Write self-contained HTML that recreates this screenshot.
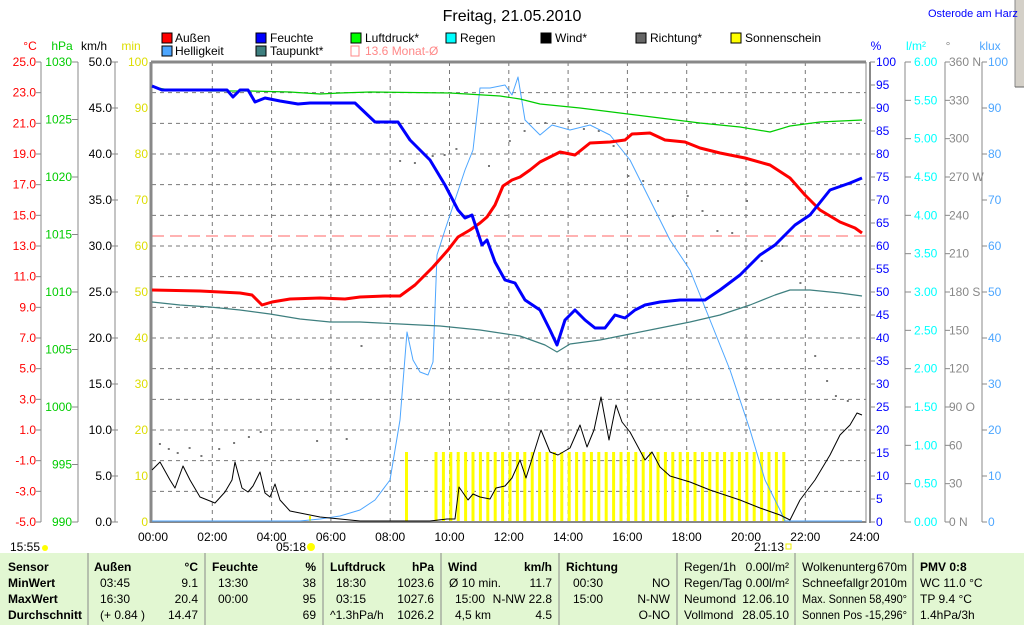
<!DOCTYPE html>
<html><head><meta charset="utf-8"><style>
body{margin:0;background:#fff;width:1024px;height:625px;overflow:hidden;font-family:"Liberation Sans",sans-serif}
svg{position:absolute;left:0;top:0}
</style></head><body>
<svg id="s" width="1024" height="625" xmlns="http://www.w3.org/2000/svg" font-family="Liberation Sans, sans-serif" font-size="12">
<rect x="1015" y="0" width="9" height="87" fill="#d4d0c8"/>
<line x1="1015" y1="0" x2="1015" y2="87" stroke="#888"/>
<line x1="1015" y1="87" x2="1024" y2="87" stroke="#666"/>
<text x="512" y="21" font-size="16" text-anchor="middle">Freitag, 21.05.2010</text>
<text x="928" y="17" font-size="11" fill="#0000ff">Osterode am Harz</text>
<g font-size="12">
<rect x="162" y="33" width="10" height="10" fill="#f00" stroke="#000"/><text x="175" y="42">Außen</text>
<rect x="162" y="46" width="10" height="10" fill="#4da6ff" stroke="#000"/><text x="175" y="55">Helligkeit</text>
<rect x="256" y="33" width="10" height="10" fill="#00f" stroke="#000"/><text x="270" y="42">Feuchte</text>
<rect x="256" y="46" width="10" height="10" fill="#3e7f7f" stroke="#000"/><text x="270" y="55">Taupunkt*</text>
<rect x="351" y="33" width="10" height="10" fill="#0f0" stroke="#000"/><text x="365" y="42">Luftdruck*</text>
<rect x="351" y="46" width="8" height="10" fill="none" stroke="#f88"/><text x="365" y="55" fill="#f88">13.6 Monat-Ø</text>
<rect x="446" y="33" width="10" height="10" fill="#0ff" stroke="#000"/><text x="460" y="42">Regen</text>
<rect x="541" y="33" width="10" height="10" fill="#000" stroke="#000"/><text x="555" y="42">Wind*</text>
<rect x="636" y="33" width="10" height="10" fill="#666" stroke="#000"/><text x="650" y="42">Richtung*</text>
<rect x="731" y="33" width="10" height="10" fill="#ff0" stroke="#000"/><text x="745" y="42">Sonnenschein</text>
</g>
<g id="g"></g>
</svg>
<script>
(function(){
var g=document.getElementById('g'),h='';
var X0=153,XH=29.65,T=62,B=522;
function x(t){return X0+t*XH}
function L(a,b,c,d,s,w,da){h+='<line x1="'+a+'" y1="'+b+'" x2="'+c+'" y2="'+d+'" stroke="'+s+'" stroke-width="'+(w||1)+'"'+(da?' stroke-dasharray="'+da+'"':'')+'/>'}
function Tx(xx,yy,t,c,a){h+='<text x="'+xx+'" y="'+yy+'" fill="'+c+'" text-anchor="'+(a||'start')+'">'+t+'</text>'}
for(var i=1;i<15;i++){var yy=T+i*460/15;L(152,yy,866,yy,'#777',1,'4,4')}
for(var i=1;i<12;i++){L(x(2*i),T,x(2*i),B,'#777',1,'4,4')}
for(var xx=436;xx<=784;xx+=7.4){h+='<rect x="'+(xx-1.5).toFixed(1)+'" y="452" width="3" height="70" fill="#ff0"/>'}
h+='<rect x="405" y="452" width="3" height="70" fill="#ff0"/>';
h+='<rect x="309" y="516" width="2" height="6" fill="#ff0"/>';
L(152,236,866,236,'#f66',1,'12,6');
L(151,62,866,62,'#888',3);L(151,62,151,523,'#888',3);L(151,522,866,522,'#888',2);L(866,62,866,523,'#888',1);L(870,62,870,523,'#888',2);
Tx(30,50,'°C','#f00','middle');Tx(62,50,'hPa','#0c0','middle');Tx(94,50,'km/h','#000','middle');Tx(131,50,'min','#dd0','middle');
L(41,62,41,522,'#888');L(78,62,78,522,'#888');L(115,62,115,522,'#888');
for(var i=0;i<=15;i++){var yy=T+i*460/15;Tx(36,yy+4,(25-2*i).toFixed(1),'#f00','end');L(36,yy,41,yy,'#888')}
for(var i=0;i<=8;i++){var yy=T+i*57.5;Tx(72,yy+4,1030-5*i,'#0c0','end');L(72,yy,78,yy,'#888')}
for(var i=0;i<=10;i++){var yy=T+i*46;Tx(112,yy+4,(50-5*i).toFixed(1),'#000','end');L(112,yy,118,yy,'#888');Tx(148,yy+4,100-10*i,'#dd0','end')}
Tx(876,50,'%','#00f','middle');Tx(916,50,'l/m²','#0ff','middle');Tx(948,50,'°','#888','middle');Tx(990,50,'klux','#4da6ff','middle');
L(905,62,905,522,'#888');L(945,62,945,522,'#888');L(982,62,982,522,'#888');
for(var i=0;i<=20;i++){var yy=T+i*23;Tx(876,yy+4,100-5*i,'#00f');L(870,yy,875,yy,'#888')}
for(var i=0;i<=12;i++){var yy=T+i*460/12;Tx(914,yy+4,(6-0.5*i).toFixed(2),'#0ff');L(905,yy,911,yy,'#888');
 var d=360-30*i,lab=d+({360:' N',270:' W',180:' S',90:' O',0:' N'}[d]||'');Tx(949,yy+4,lab,'#888');L(945,yy,950,yy,'#888')}
for(var i=0;i<=10;i++){var yy=T+i*46;Tx(988,yy+4,100-10*i,'#4da6ff');L(982,yy,987,yy,'#888')}
for(var i=0;i<=12;i++){Tx(x(2*i),541,(2*i<10?'0':'')+(2*i)+':00','#000','middle')}
function P(q,c,w){h+='<polyline points="'+q+'" fill="none" stroke="'+c+'" stroke-width="'+w+'" stroke-linejoin="round"/>'}
var dots=[0.2,443,0.5,448,0.8,452,1.2,447,1.6,455,2.2,448,2.7,442,3.2,436,3.6,431,5.5,440,6.5,438,7.0,345,8.3,160,8.8,162,9.4,155,9.8,154,10.2,148,11.3,165,12.0,140,12.5,130,13.2,122,14.0,120,14.5,128,15.0,130,15.5,145,16.0,175,16.5,180,17.0,200,17.5,215,18.0,195,18.5,210,19.0,230,19.5,232,20.0,200,20.5,260,21.2,245,21.8,282,22.3,355,22.7,380,23.0,395,23.4,400];
for(var i=0;i<dots.length;i+=2)h+='<rect x="'+x(dots[i]).toFixed(1)+'" y="'+dots[i+1]+'" width="2" height="2" fill="#777"/>';
P('152,521 300,521 320,519 340,516 360,510 375,500 390,480 400,420 407,332 413,360 420,372 428,375 433,362 437,255 445,230 455,200 465,170 473,150 480,88 490,88 500,86 505,85 512,95 518,77 525,120 540,135 552,125 570,130 590,125 610,135 630,160 650,200 670,240 690,270 710,320 730,370 750,430 765,480 780,510 785,521 862,521','#4da6ff',1);
P('152,302 180,305 210,307 240,310 270,314 300,319 330,322 360,322 400,324 440,326 480,330 520,336 545,345 557,352 570,344 600,340 630,334 660,328 690,322 720,315 750,305 775,295 790,290 810,290 840,293 862,296','#3e7f7f',1.2);
P('152,87 170,90 210,91 250,91 290,92 320,94 340,93 370,92 450,93 500,96 520,99 540,104 580,108 620,113 660,118 700,123 740,127 770,132 790,126 820,122 862,120','#0c0',1.2);
P('152,290 200,291 240,293 252,295 262,305 272,302 290,299 320,298 345,299 360,297 385,296 400,296 415,285 433,267 448,250 458,237 470,230 480,223 487,217 495,205 503,186 512,180 520,177 530,170 540,162 550,157 560,152 575,155 590,143 610,142 625,140 632,134 650,133 665,140 685,142 700,148 720,153 745,158 770,165 790,178 805,195 820,210 840,222 855,228 862,233','#f00',3);
P('152,86 162,90 227,90 233,97 240,90 248,90 255,102 265,98 280,101 298,104 310,103 355,103 375,122 398,122 410,140 420,150 430,160 445,185 458,210 465,218 472,215 482,245 487,240 495,262 505,280 515,283 525,300 540,310 550,330 557,345 565,320 575,310 585,320 595,328 605,328 615,315 625,318 635,310 645,305 660,302 680,300 705,300 720,290 740,275 760,255 775,245 795,225 810,215 830,190 850,183 862,178','#00f',3);
P('152,470 160,462 170,480 175,488 183,466 190,480 200,497 215,503 225,492 232,480 235,462 242,488 248,492 253,486 260,472 265,493 270,497 275,484 280,500 290,511 305,514 320,517 340,519 360,521 400,521 430,521 447,519 455,519 459,487 468,500 473,494 480,497 490,499 496,488 505,486 512,478 520,460 526,478 541,430 550,452 558,455 570,448 580,425 587,447 594,430 601,397 609,440 616,405 622,422 630,432 645,460 652,452 660,467 670,476 690,482 710,490 740,500 760,508 780,515 790,520 800,500 815,480 830,455 840,435 850,425 857,413 862,415','#000',1);
g.innerHTML=h;
})();
</script>
<svg width="1024" height="625" xmlns="http://www.w3.org/2000/svg" font-family="Liberation Sans, sans-serif" font-size="12" style="position:absolute;left:0;top:0">
<text x="10" y="551">15:55</text><circle cx="45" cy="548" r="3" fill="#ff0"/>
<text x="276" y="551">05:18</text><circle cx="311" cy="547" r="4" fill="#ff0"/>
<text x="754" y="551">21:13</text><rect x="786" y="544" width="5" height="5" fill="none" stroke="#ee0"/>
<rect x="0" y="553" width="1024" height="72" fill="#e2f7d2"/>
<g stroke="#888"><line x1="88" y1="553" x2="88" y2="625"/><line x1="205" y1="553" x2="205" y2="625"/><line x1="323" y1="553" x2="323" y2="625"/><line x1="441" y1="553" x2="441" y2="625"/><line x1="559" y1="553" x2="559" y2="625"/><line x1="677" y1="553" x2="677" y2="625"/><line x1="795" y1="553" x2="795" y2="625"/><line x1="913" y1="553" x2="913" y2="625"/></g>
<g font-weight="bold"><text x="8" y="571">Sensor</text><text x="8" y="587">MinWert</text><text x="8" y="603">MaxWert</text><text x="8" y="619">Durchschnitt</text>
<text x="94" y="571">Außen</text><text x="198" y="571" text-anchor="end">°C</text>
<text x="212" y="571">Feuchte</text><text x="316" y="571" text-anchor="end">%</text>
<text x="330" y="571">Luftdruck</text><text x="434" y="571" text-anchor="end">hPa</text>
<text x="448" y="571">Wind</text><text x="552" y="571" text-anchor="end">km/h</text>
<text x="566" y="571">Richtung</text><text x="920" y="571">PMV 0:8</text></g>
<text x="100" y="587">03:45</text><text x="198" y="587" text-anchor="end">9.1</text>
<text x="100" y="603">16:30</text><text x="198" y="603" text-anchor="end">20.4</text>
<text x="100" y="619">(+ 0.84 )</text><text x="198" y="619" text-anchor="end">14.47</text>
<text x="218" y="587">13:30</text><text x="316" y="587" text-anchor="end">38</text>
<text x="218" y="603">00:00</text><text x="316" y="603" text-anchor="end">95</text>
<text x="316" y="619" text-anchor="end">69</text>
<text x="336" y="587">18:30</text><text x="434" y="587" text-anchor="end">1023.6</text>
<text x="336" y="603">03:15</text><text x="434" y="603" text-anchor="end">1027.6</text>
<text x="330" y="619">^1.3hPa/h</text><text x="434" y="619" text-anchor="end">1026.2</text>
<text x="449" y="587">Ø 10 min.</text><text x="552" y="587" text-anchor="end">11.7</text>
<text x="455" y="603">15:00</text><text x="552" y="603" text-anchor="end">N-NW 22.8</text>
<text x="455" y="619">4,5 km</text><text x="552" y="619" text-anchor="end">4.5</text>
<text x="573" y="587">00:30</text><text x="670" y="587" text-anchor="end">NO</text>
<text x="573" y="603">15:00</text><text x="670" y="603" text-anchor="end">N-NW</text>
<text x="670" y="619" text-anchor="end">O-NO</text>
<text x="684" y="571">Regen/1h</text><text x="789" y="571" text-anchor="end">0.00l/m²</text>
<text x="684" y="587">Regen/Tag</text><text x="789" y="587" text-anchor="end">0.00l/m²</text>
<text x="684" y="603">Neumond</text><text x="789" y="603" text-anchor="end">12.06.10</text>
<text x="684" y="619">Vollmond</text><text x="789" y="619" text-anchor="end">28.05.10</text>
<text x="802" y="571">Wolkenunterg</text><text x="907" y="571" text-anchor="end">670m</text>
<text x="802" y="587">Schneefallgr</text><text x="907" y="587" text-anchor="end">2010m</text>
<text x="802" y="603" textLength="105" lengthAdjust="spacingAndGlyphs">Max. Sonnen 58,490°</text>
<text x="802" y="619" textLength="105" lengthAdjust="spacingAndGlyphs">Sonnen Pos  -15,296°</text>
<text x="920" y="587">WC 11.0 °C</text><text x="920" y="603">TP 9.4 °C</text><text x="920" y="619">1.4hPa/3h</text>
</svg>
</body></html>
